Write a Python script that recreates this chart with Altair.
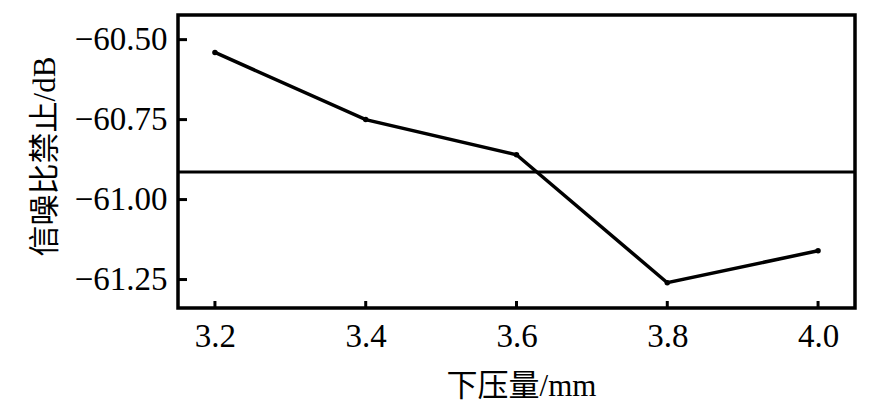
import altair as alt
import pandas as pd

# Data
pressing = [3.2, 3.4, 3.6, 3.8, 4.0]          # 下压量 / mm
snr = [-60.54, -60.75, -60.86, -61.26, -61.16]  # 信噪比 / dB
x_ticks = [3.2, 3.4, 3.6, 3.8, 4.0]
y_ticks = [-60.50, -60.75, -61.00, -61.25]
mean_snr = sum(snr) / len(snr)

W, H = 677, 293
FONT = "'Liberation Serif', 'Times New Roman', 'Noto Sans CJK SC', serif"

df = pd.DataFrame({"x": pressing, "y": snr})
df_mean = pd.DataFrame({"y": [mean_snr]})
df_xt = pd.DataFrame({"x": x_ticks})
df_yt = pd.DataFrame({"y": y_ticks})

xs = alt.Scale(domain=[3.151, 4.049], nice=False, zero=False)
ys = alt.Scale(domain=[-61.339, -60.423], nice=False, zero=False)

x_axis = alt.Axis(values=x_ticks, format=".1f", title="下压量/mm",
                  labelPadding=12, titleX=343, titleY=78,
                  titleAlign="center", titleBaseline="middle")
y_axis = alt.Axis(values=y_ticks, format=".2f", title="信噪比禁止/dB",
                  labelPadding=11, titleX=-133, titleY=141, titleAngle=-90,
                  titleAlign="center", titleBaseline="middle")

line = alt.Chart(df).mark_line(color="black", strokeWidth=3.5).encode(
    x=alt.X("x:Q", scale=xs, axis=x_axis),
    y=alt.Y("y:Q", scale=ys, axis=y_axis),
)
points = alt.Chart(df).mark_point(filled=True, color="black", size=30, opacity=1).encode(
    x=alt.X("x:Q", scale=xs),
    y=alt.Y("y:Q", scale=ys),
)
mean_rule = alt.Chart(df_mean).mark_rule(color="black", strokeWidth=3).encode(
    y=alt.Y("y:Q", scale=ys),
)
xtick = alt.Chart(df_xt).mark_rule(color="black", strokeWidth=3).encode(
    x=alt.X("x:Q", scale=xs),
    y=alt.value(H),
    y2=alt.value(H - 7),
)
ytick = alt.Chart(df_yt).mark_rule(color="black", strokeWidth=3).encode(
    y=alt.Y("y:Q", scale=ys),
    x=alt.value(0),
    x2=alt.value(9),
)

chart = alt.layer(mean_rule, line, points, xtick, ytick).properties(
    width=W,
    height=H,
    autosize="none",
    padding={"left": 170, "top": 7, "right": 20, "bottom": 95},
    background="white",
).configure_view(
    stroke="black", strokeWidth=3.5
).configure_axis(
    domain=False, ticks=False, tickSize=0, grid=False,
    labelFont=FONT, labelFontSize=33, labelColor="black",
    titleFont=FONT, titleFontSize=31, titleFontWeight="normal", titleColor="black",
)

chart.save("out.html", embed_options={"renderer": "svg", "actions": False})
